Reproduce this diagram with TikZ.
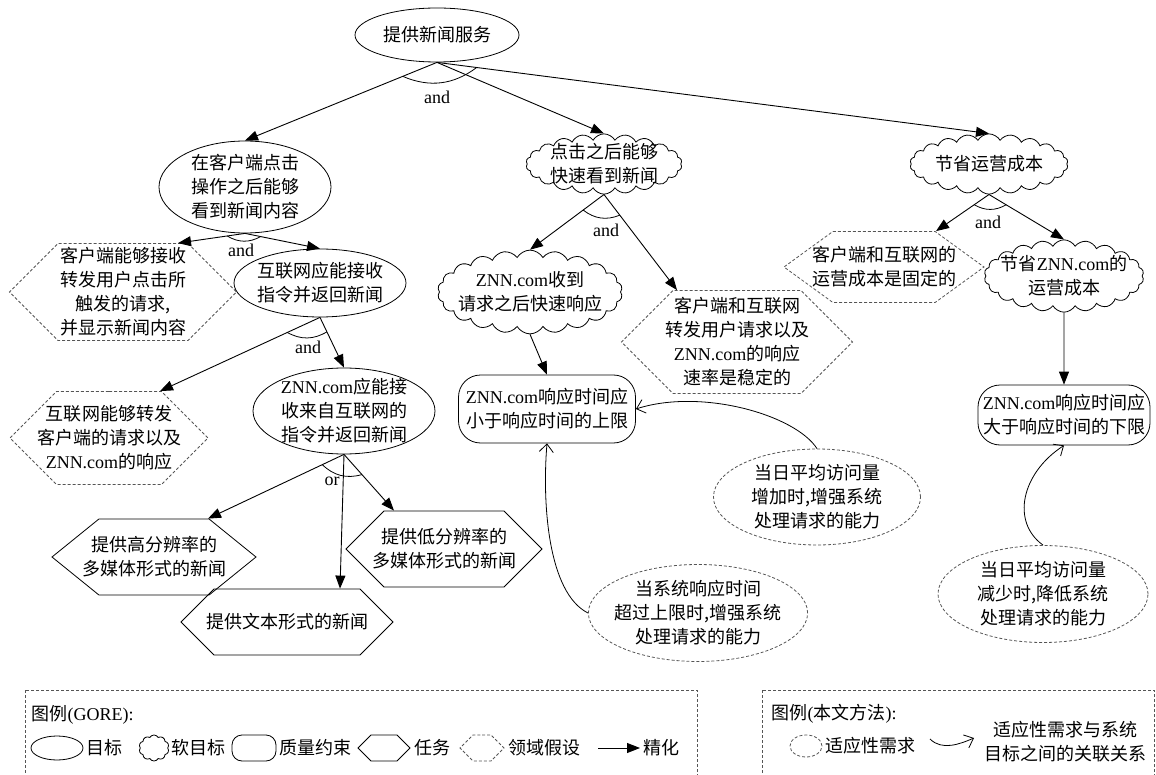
\documentclass[tikz,border=0pt]{standalone}
\usepackage{fontspec}
\setmainfont{Noto Sans CJK SC}
\newfontfamily\lat{Liberation Serif}
\usetikzlibrary{shapes.geometric,shapes.symbols,arrows.meta,calc}
\definecolor{dashgray}{HTML}{555555}
\newcommand{\znn}{{\lat ZNN.com}}

\begin{document}
\begin{tikzpicture}[x=1pt, y=-1pt,
    font=\fontsize{18}{24}\selectfont,
    every node/.style={align=center},
    goal/.style={ellipse, draw, line width=0.8pt, inner sep=-6pt},
    softgoal/.style={cloud, draw, cloud puffs=22, cloud puff arc=120, aspect=2.6, line width=0.8pt, inner sep=-8pt},
    quality/.style={rectangle, draw, rounded corners=22pt, line width=0.8pt, inner sep=0pt},
    task/.style={signal, signal to=east and west, signal pointer angle=90, draw, line width=0.8pt, inner xsep=-28pt, inner ysep=0pt},
    assume/.style={task, draw=dashgray, dash pattern=on 3pt off 2pt},
    adaptreq/.style={ellipse, draw=dashgray, dash pattern=on 3pt off 2pt, line width=0.8pt, inner sep=-6pt},
    refine/.style={-{Triangle[length=13pt,width=10pt]}, line width=0.9pt},
    relate/.style={-{Straight Barb[length=8pt,width=14pt]}, line width=0.8pt},
    andarc/.style={line width=0.8pt},
    lbl/.style={font=\fontsize{18}{20}\lat},
    legbox/.style={draw=dashgray, dash pattern=on 3pt off 2pt, line width=0.8pt}
]
\useasboundingbox (0,0) rectangle (1156,775);

\node[goal, minimum width=164pt, minimum height=54pt] (serve) at (437,35) {提供新闻服务};
\node[goal, minimum width=172pt, minimum height=92pt] (click) at (245,187) {在客户端点击\\操作之后能够\\看到新闻内容};
\node[softgoal, minimum width=156pt, minimum height=58pt] (fast) at (604,164) {点击之后能够\\快速看到新闻};
\node[softgoal, minimum width=158pt, minimum height=56pt] (save) at (989,164) {节省运营成本};

\node[assume, minimum width=227pt, minimum height=97pt] (hclient) at (123,292) {客户端能够接收\\转发用户点击所\\触发的请求,\\并显示新闻内容};
\node[goal, minimum width=172pt, minimum height=68pt] (inet) at (320,283) {互联网应能接收\\指令并返回新闻};
\node[assume, minimum width=198pt, minimum height=93pt] (hinet) at (109,438) {互联网能够转发\\客户端的请求以及\\\znn 的响应};
\node[goal, minimum width=182pt, minimum height=86pt] (znn) at (344,411) {\znn 应能接\\收来自互联网的\\指令并返回新闻};
\node[task, signal pointer angle=78, minimum width=204pt, minimum height=76pt] (thigh) at (154,557) {提供高分辨率的\\多媒体形式的新闻};
\node[task, minimum width=196pt, minimum height=76pt] (tlow) at (444,549) {提供低分辨率的\\多媒体形式的新闻};
\node[task, minimum width=212pt, minimum height=66pt] (ttext) at (287,622) {提供文本形式的新闻};

\node[softgoal, minimum width=176pt, minimum height=64pt] (zfast) at (530,292) {\znn 收到\\请求之后快速响应};
\node[assume, minimum width=231pt, minimum height=103pt] (hrate) at (737,342) {客户端和互联网\\转发用户请求以及\\\znn 的响应\\速率是稳定的};
\node[quality, minimum width=177pt, minimum height=68pt] (qup) at (547,409) {\znn 响应时间应\\小于响应时间的上限};

\node[assume, signal pointer angle=72, minimum width=200pt, minimum height=71pt] (hcost) at (884,267) {客户端和互联网的\\运营成本是固定的};
\node[softgoal, minimum width=152pt, minimum height=63pt] (zsave) at (1064,276) {节省\znn 的\\运营成本};
\node[quality, minimum width=172pt, minimum height=60pt] (qlow) at (1064,415) {\znn 响应时间应\\大于响应时间的下限};

\node[adaptreq, minimum width=207pt, minimum height=96pt] (inc) at (817,497) {当日平均访问量\\增加时,增强系统\\处理请求的能力};
\node[adaptreq, minimum width=213pt, minimum height=97pt] (exceed) at (698,613) {当系统响应时间\\超过上限时,增强系统\\处理请求的能力};
\node[adaptreq, minimum width=210pt, minimum height=97pt] (dec) at (1043,594) {当日平均访问量\\减少时,降低系统\\处理请求的能力};

\node[lbl] (and0) at (437,97) {and};
\node[lbl] (and1) at (241,250) {and};
\node[lbl] (and2) at (308,347) {and};
\node[lbl] (or0) at (332,481) {or};
\node[lbl] (and3) at (606,230) {and};
\node[lbl] (and4) at (988,222) {and};

\draw[refine] (serve.south) -- (click.north);
\draw[refine] (serve.south) -- (fast.north);
\draw[refine] (serve.south) -- (save.north);
\draw[andarc] ($(serve.south)!37pt!(click.north)$) to[bend right=30] ($(serve.south)!40pt!(save.north)$);

\draw[refine] (click.south) -- ($(hclient.north)+(55,0)$);
\draw[refine] (click.south) -- (inet.north);
\draw[andarc] ($(click.south)!18pt!($(hclient.north)+(55,0)$)$) to[bend right=30] ($(click.south)!16pt!(inet.north)$);

\draw[refine] (inet.south) -- ($(hinet.north)+(51,0)$);
\draw[refine] (inet.south) -- (znn.north);
\draw[andarc] ($(inet.south)!36pt!($(hinet.north)+(51,0)$)$) to[bend right=30] ($(inet.south)!16pt!(znn.north)$);

\draw[refine] (znn.south) -- ($(thigh.north)+(54,0)$);
\draw[refine] (znn.south) -- ($(ttext.north)+(53,0)$);
\draw[refine] (znn.south) -- ($(tlow.north)+(-50,0)$);
\draw[andarc] ($(znn.south)!24pt!($(thigh.north)+(54,0)$)$) to[bend right=30] ($(znn.south)!27pt!($(tlow.north)+(-50,0)$)$);

\draw[refine] (fast.south) -- (zfast.north);
\draw[refine] (fast.south) -- ($(hrate.north)+(-60,0)$);
\draw[andarc] ($(fast.south)!26pt!(zfast.north)$) to[bend right=30] ($(fast.south)!26pt!($(hrate.north)+(-60,0)$)$);
\draw[refine] (zfast.south) -- (qup.north);

\draw[refine] (save.south) -- ($(hcost.north)+(52,0)$);
\draw[refine] (save.south) -- (zsave.north);
\draw[andarc] ($(save.south)!18pt!($(hcost.north)+(52,0)$)$) to[bend right=30] ($(save.south)!20pt!(zsave.north)$);
\draw[refine] (zsave.south) -- (qlow.north);

\draw[relate] (inc.north) .. controls +(-22,-34) and +(65,-21) .. (qup.east);
\draw[relate] (exceed.west) .. controls +(-40,-20) and +(-5,60) .. (qup.south);
\draw[relate] (dec.north) .. controls +(-32,-23) and +(-43,28) .. (qlow.south);

\draw[legbox] (25,690) rectangle (697,800);
\node[anchor=west] (legone) at (28,715) {图例{\lat (GORE):}};
\node[goal, inner sep=0pt, minimum width=52pt, minimum height=24pt] (lgoal) at (57,748) {};
\node[anchor=west] (tgoal) at (lgoal.east) {目标};
\node[softgoal, inner sep=0pt, cloud puffs=10, aspect=1.2, minimum width=30pt, minimum height=26pt] (lsoft) at (154,748) {};
\node[anchor=west] (tsoft) at (lsoft.east) {软目标};
\node[quality, rounded corners=10pt, minimum width=44pt, minimum height=26pt] (lqual) at (254,748) {};
\node[anchor=west] (tqual) at (lqual.east) {质量约束};
\node[task, minimum width=52pt, minimum height=26pt] (ltask) at (384,748) {};
\node[anchor=west] (ttask) at (ltask.east) {任务};
\node[assume, minimum width=44pt, minimum height=26pt] (lassume) at (482,748) {};
\node[anchor=west] (tassume) at (lassume.east) {领域假设};
\coordinate (lra) at (598,748);
\coordinate (lrb) at (640,748);
\draw[refine] (lra) -- (lrb);
\node[anchor=west] (trefine) at (lrb) {精化};

\draw[legbox] (762,690) rectangle (1154,800);
\node[anchor=west] (legtwo) at (768,714) {图例{\lat (}本文方法{\lat ):}};
\node[adaptreq, inner sep=0pt, minimum width=32pt, minimum height=22pt] (ladapt) at (806,746) {};
\node[anchor=west] (tadapt) at (ladapt.east) {适应性需求};
\coordinate (lla) at (930,739);
\coordinate (llb) at (974,738);
\draw[relate] (lla) .. controls +(12,12) and +(-14,6) .. (llb);
\node (trelate) at (1065,742) {适应性需求与系统\\目标之间的关联关系};
\end{tikzpicture}
\end{document}
